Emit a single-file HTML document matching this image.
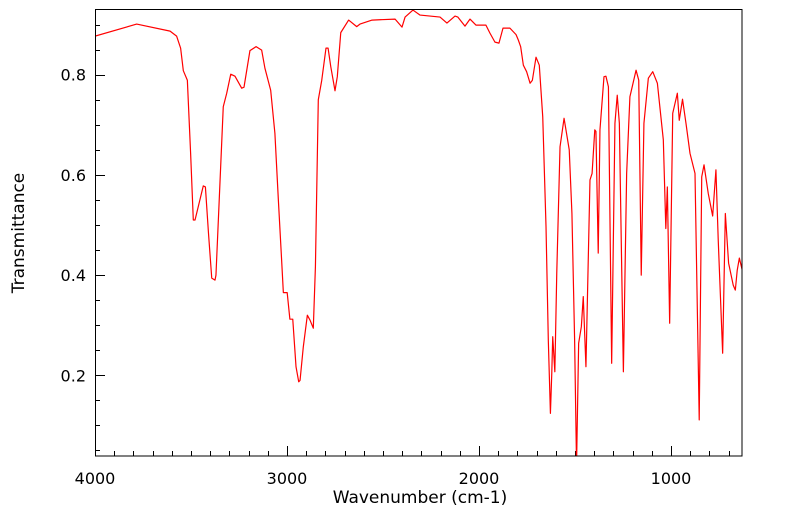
<!DOCTYPE html>
<html><head><meta charset="utf-8"><style>
body{margin:0;background:#fff;width:799px;height:516px;overflow:hidden}
text{font-family:"DejaVu Sans","Liberation Sans",sans-serif;fill:#000}
</style></head><body>
<svg id="chart" width="799" height="516" viewBox="0 0 799 516" xmlns="http://www.w3.org/2000/svg">
<defs><clipPath id="pc"><rect x="95" y="9" width="647" height="447"/></clipPath></defs>
<g id="ticks"></g>
<path id="spec" fill="none" stroke="#ff0000" stroke-width="1.2" stroke-linejoin="round" clip-path="url(#pc)"/>
<rect x="95.5" y="9.5" width="646.5" height="446.5" fill="none" stroke="#000" stroke-width="1"/>
<text x="420" y="503" font-size="17" text-anchor="middle">Wavenumber (cm-1)</text>
<text transform="translate(24,233) rotate(-90)" font-size="17" text-anchor="middle">Transmittance</text>
</svg>
<script>
const wavenumbers=[4000,3783,3609,3575,3554,3540,3519,3502,3488,3479,3436,3425,3409,3392,3375,3370,3353,3332,3314,3293,3271,3236,3224,3193,3161,3132,3115,3085,3063,3045,3028,3019,2999,2985,2970,2953,2939,2932,2915,2894,2880,2863,2852,2837,2819,2797,2786,2772,2750,2738,2720,2679,2637,2620,2557,2437,2401,2385,2344,2307,2203,2167,2125,2110,2073,2047,2016,1964,1943,1917,1896,1875,1839,1807,1795,1783,1769,1752,1734,1722,1703,1686,1668,1651,1639,1628,1621,1616,1605,1595,1578,1557,1530,1516,1502,1492,1481,1467,1457,1443,1422,1411,1397,1391,1379,1370,1349,1339,1326,1309,1292,1280,1269,1248,1231,1214,1182,1168,1155,1141,1118,1095,1071,1040,1027,1019,1007,991,967,957,940,922,901,875,853,840,828,806,783,766,754,731,717,700,676,665,655,644,629];
const transmittance=[0.877,0.901,0.887,0.877,0.853,0.808,0.789,0.643,0.51,0.51,0.578,0.576,0.484,0.394,0.39,0.4,0.55,0.736,0.763,0.801,0.797,0.773,0.775,0.848,0.856,0.849,0.813,0.769,0.683,0.55,0.43,0.365,0.365,0.312,0.312,0.217,0.187,0.19,0.257,0.32,0.31,0.294,0.417,0.75,0.789,0.853,0.853,0.816,0.768,0.796,0.884,0.909,0.896,0.901,0.909,0.911,0.895,0.915,0.929,0.919,0.915,0.903,0.917,0.915,0.897,0.911,0.899,0.899,0.883,0.865,0.863,0.893,0.893,0.88,0.869,0.856,0.819,0.806,0.783,0.789,0.835,0.819,0.716,0.497,0.27,0.124,0.204,0.277,0.207,0.404,0.656,0.713,0.65,0.523,0.27,0.02,0.264,0.297,0.357,0.217,0.59,0.603,0.69,0.687,0.444,0.69,0.796,0.797,0.776,0.224,0.703,0.759,0.703,0.207,0.603,0.756,0.809,0.789,0.4,0.703,0.793,0.806,0.783,0.67,0.493,0.576,0.304,0.723,0.763,0.709,0.751,0.703,0.643,0.603,0.111,0.596,0.62,0.563,0.518,0.61,0.47,0.244,0.523,0.424,0.38,0.37,0.41,0.434,0.41];
const xTickLabels=[4000,3000,2000,1000];
const yTickLabels=[0.2,0.4,0.6,0.8];
const X=w=>95+(4000-w)*0.192;
const Y=v=>74.7+(0.8-v)*501;
const NS='http://www.w3.org/2000/svg';
let d='';
for(let i=0;i<wavenumbers.length;i++){d+=(i?'L':'M')+X(wavenumbers[i]).toFixed(2)+','+Y(transmittance[i]).toFixed(2);}
document.getElementById('spec').setAttribute('d',d);
const g=document.getElementById('ticks');
function line(x1,y1,x2,y2){const l=document.createElementNS(NS,'line');l.setAttribute('x1',x1);l.setAttribute('y1',y1);l.setAttribute('x2',x2);l.setAttribute('y2',y2);l.setAttribute('stroke','#000');l.setAttribute('stroke-width','1');


g.appendChild(l);}
for(let w=4000;w>=700;w-=100){const x=Math.round(X(w))+0.5;line(x,456,x,(w%1000===0)?446:451);}
for(let v=0.05;v<=0.93;v+=0.05){const vv=Math.round(v*100)/100;const y=Math.round(Y(vv))+0.5;const major=Math.abs(vv*10-Math.round(vv*10))<1e-6&&Math.round(vv*10)%2===0;line(95,y,major?105:100,y);}
xTickLabels.forEach(w=>{const t=document.createElementNS(NS,'text');t.setAttribute('x',X(w));t.setAttribute('y',484);t.setAttribute('font-size','16');t.setAttribute('text-anchor','middle');t.textContent=w;


g.appendChild(t);});
yTickLabels.forEach(v=>{const t=document.createElementNS(NS,'text');t.setAttribute('x',86);t.setAttribute('y',Y(v)+6);t.setAttribute('font-size','16');t.setAttribute('text-anchor','end');t.textContent=v.toFixed(1);


g.appendChild(t);});
</script>
</body></html>
